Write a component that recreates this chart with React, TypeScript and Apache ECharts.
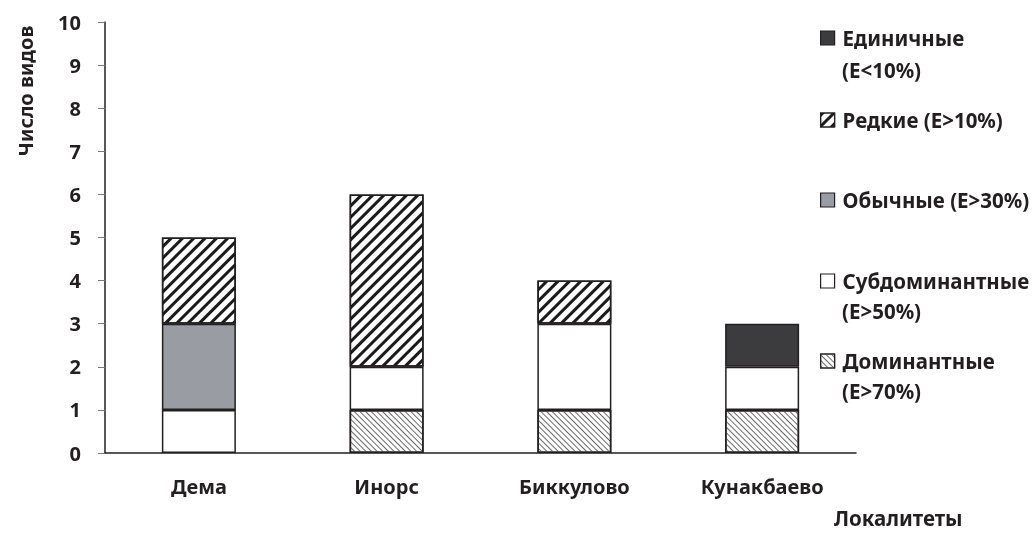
import React, { useEffect, useRef } from "react";
import * as echarts from "echarts";

const categories = ["Дема", "Инорс", "Биккулово", "Кунакбаево"];
const dominant = [null, 1, 1, 1];
const subdominant = [1, 1, 2, 1];
const common = [2, null, null, null];
const rare = [2, 4, 1, null];
const single = [null, null, null, 1];
const yTicks = { min: 0, max: 10, interval: 1 };

const FONT = "'Noto Sans', 'DejaVu Sans', sans-serif";
const W = 700;
const TXT = "#231f20";
const LEG = 20.5;

const rareDecal = {
  symbol: "rect",
  symbolSize: 1,
  dashArrayX: [1, 0],
  dashArrayY: [3, 5],
  rotation: -Math.PI / 4,
  color: "#1a1a1a",
};
const domDecal = {
  symbol: "rect",
  symbolSize: 1,
  dashArrayX: [1, 0],
  dashArrayY: [1, 2.5],
  rotation: Math.PI / 4,
  color: "#6a6a6a",
};

export default function App() {
  const ref = useRef<HTMLDivElement>(null);
  useEffect(() => {
    const chart = echarts.init(ref.current!, null, { renderer: "svg" });
    const border = { borderColor: TXT, borderWidth: 1.5 };
    const mk = (name: string, data: any[], itemStyle: any) => ({
      name,
      type: "bar",
      stack: "s",
      barWidth: 74,
      data,
      itemStyle: { ...border, ...itemStyle },
    });
    const legendAt = (name: string, centerY: number) => ({
      data: [name],
      left: 820,
      top: centerY - 12,
      padding: 0,
      orient: "vertical",
      selectedMode: false,
      icon: "rect",
      itemWidth: 14,
      itemHeight: 14,
      itemStyle: { borderColor: TXT, borderWidth: 1.2 },
      textStyle: { fontFamily: FONT, fontWeight: W, fontSize: LEG, color: TXT, lineHeight: 24, padding: [0, 0, 0, 3] },
    });
    const txt = (text: string, x: number, y: number, size: number) => ({
      type: "text",
      x,
      y,
      style: {
        text,
        fontFamily: FONT,
        fontWeight: W,
        fontSize: size,
        fill: TXT,
        textVerticalAlign: "middle",
      },
    });
    chart.setOption({
      animation: false,
      grid: { left: 105, right: 180, top: 22, bottom: 81 },
      legend: [
        legendAt("Единичные", 38),
        legendAt("Редкие (Е>10%)", 120),
        legendAt("Обычные (Е>30%)", 200),
        legendAt("Субдоминантные", 281),
        legendAt("Доминантные", 361),
      ],
      xAxis: {
        type: "category",
        data: categories,
        axisLine: { lineStyle: { color: TXT, width: 1.5 } },
        axisTick: { length: 8, lineStyle: { color: "#777" } },
        axisLabel: { margin: 23, fontFamily: FONT, fontWeight: W, fontSize: 20, color: TXT },
      },
      yAxis: {
        type: "value",
        min: yTicks.min,
        max: yTicks.max,
        interval: yTicks.interval,
        splitLine: { show: false },
        axisLine: { show: true, lineStyle: { color: TXT, width: 1.5 } },
        axisTick: { show: true, length: 7, lineStyle: { color: "#777" } },
        axisLabel: { margin: 24, fontFamily: FONT, fontWeight: W, fontSize: 20, color: TXT },
      },
      series: [
        mk("Доминантные", dominant, { color: "#ffffff", decal: domDecal }),
        mk("Субдоминантные", subdominant, { color: "#ffffff" }),
        mk("Обычные (Е>30%)", common, { color: "#9a9ca3" }),
        mk("Редкие (Е>10%)", rare, { color: "#ffffff", decal: rareDecal }),
        mk("Единичные", single, { color: "#3c3c3e" }),
      ],
      graphic: [
        txt("(Е<10%)", 842, 70, LEG),
        txt("(Е>50%)", 842, 311, LEG),
        txt("(Е>70%)", 842, 391, LEG),
        txt("Локалитеты", 834, 518, 20.5),
        {
          type: "text",
          x: 25,
          y: 91,
          rotation: Math.PI / 2,
          style: {
            text: "Число видов",
            fontFamily: FONT,
            fontWeight: W,
            fontSize: 20,
            fill: TXT,
            textAlign: "center",
            textVerticalAlign: "middle",
          },
        },
      ],
    });
    return () => chart.dispose();
  }, []);
  return <div ref={ref} style={{ position: "fixed", left: 0, top: 0, width: 1036, height: 534 }} />;
}
